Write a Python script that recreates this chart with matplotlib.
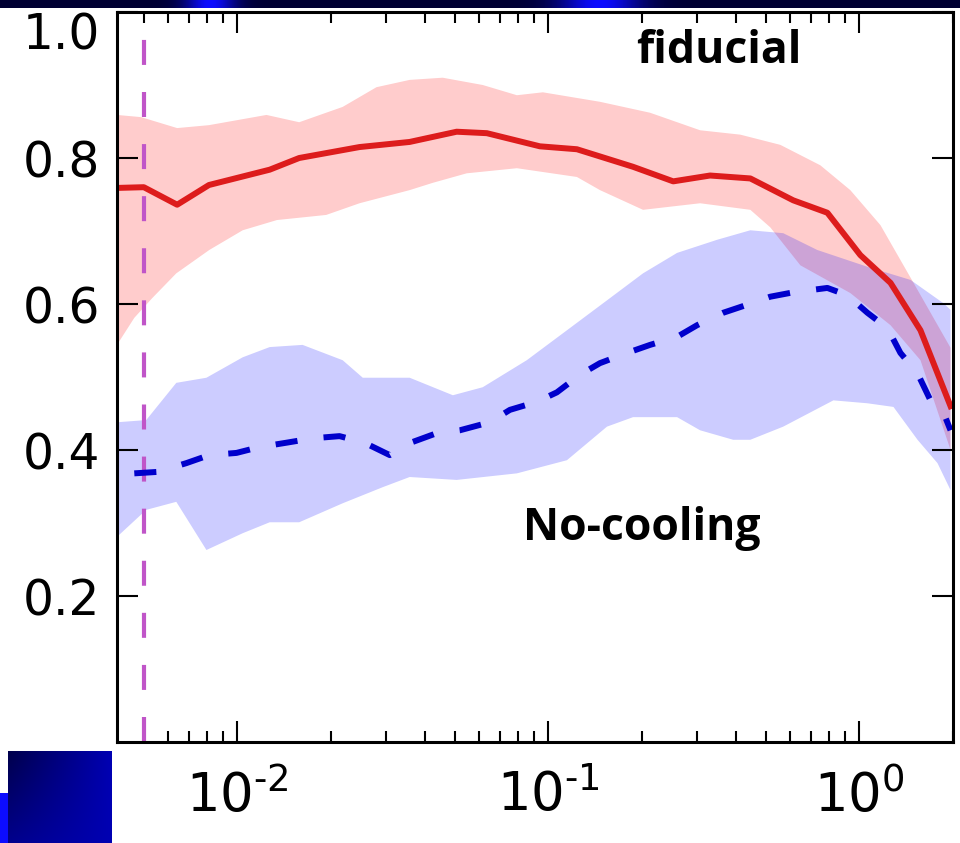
import matplotlib.pyplot as plt
import numpy as np

# fiducial run: median and spread
fid_x = [0.0041, 0.0050, 0.0064, 0.0081, 0.0127, 0.0158, 0.0247, 0.0358, 0.0507, 0.0634,
         0.0939, 0.1235, 0.187, 0.252, 0.331, 0.446, 0.613, 0.789, 1.007, 1.259, 1.572, 1.964]
fid_y = [0.759, 0.760, 0.736, 0.763, 0.784, 0.800, 0.815, 0.822, 0.836, 0.834,
         0.816, 0.812, 0.788, 0.768, 0.776, 0.772, 0.742, 0.725, 0.667, 0.629, 0.564, 0.460]

fid_up_x = [0.0041, 0.0049, 0.0064, 0.0081, 0.0124, 0.0158, 0.0218, 0.0280, 0.0358, 0.0457,
            0.0615, 0.0792, 0.0960, 0.1465, 0.2123, 0.3075, 0.414, 0.557, 0.749, 0.935,
            1.169, 1.493, 1.964]
fid_up_y = [0.859, 0.856, 0.841, 0.845, 0.859, 0.849, 0.870, 0.897, 0.907, 0.910,
            0.900, 0.886, 0.890, 0.877, 0.862, 0.838, 0.832, 0.818, 0.790, 0.756,
            0.708, 0.629, 0.540]

fid_lo_x = [0.0041, 0.00466, 0.00532, 0.00636, 0.00812, 0.0104, 0.0134, 0.0193, 0.0247, 0.0358,
            0.0425, 0.0546, 0.0792, 0.1235, 0.1465, 0.2015, 0.3075, 0.446, 0.517, 0.646,
            0.935, 1.259, 1.572, 1.964]
fid_lo_y = [0.544, 0.581, 0.608, 0.642, 0.674, 0.701, 0.715, 0.722, 0.738, 0.756,
            0.766, 0.779, 0.786, 0.774, 0.756, 0.729, 0.738, 0.729, 0.705, 0.653,
            0.615, 0.571, 0.523, 0.400]

# no-cooling run
nc_x = [0.00466, 0.00553, 0.00685, 0.00812, 0.00993, 0.01177, 0.01438, 0.01744, 0.0213, 0.0256,
        0.0309, 0.0366, 0.0437, 0.0519, 0.0648, 0.0752, 0.0918, 0.1065, 0.1263, 0.1465,
        0.1791, 0.2123, 0.2593, 0.3008, 0.3648, 0.4358, 0.517, 0.613, 0.789, 0.915,
        1.061, 1.231, 1.355, 1.538, 1.693, 1.864, 1.964]
nc_y = [0.368, 0.370, 0.382, 0.393, 0.396, 0.404, 0.410, 0.416, 0.419, 0.410,
        0.393, 0.411, 0.423, 0.427, 0.438, 0.455, 0.466, 0.479, 0.503, 0.519,
        0.533, 0.544, 0.555, 0.571, 0.588, 0.599, 0.610, 0.616, 0.622, 0.612,
        0.588, 0.567, 0.533, 0.505, 0.468, 0.451, 0.427]

nc_up_x = [0.0041, 0.00509, 0.00636, 0.00795, 0.0104, 0.0127, 0.0162, 0.0218, 0.0253, 0.0358,
           0.0493, 0.0615, 0.0852, 0.1147, 0.1543, 0.2015, 0.2593, 0.3489, 0.446, 0.569,
           0.732, 1.061, 1.460, 1.864, 1.964]
nc_up_y = [0.438, 0.441, 0.492, 0.499, 0.527, 0.541, 0.544, 0.523, 0.499, 0.499,
           0.475, 0.486, 0.523, 0.564, 0.605, 0.642, 0.670, 0.688, 0.701, 0.697,
           0.674, 0.651, 0.633, 0.601, 0.592]

nc_lo_x = [0.0041, 0.00509, 0.00636, 0.00795, 0.0104, 0.0127, 0.0158, 0.0218, 0.0293, 0.0358,
           0.0507, 0.0792, 0.1147, 0.1543, 0.1872, 0.2593, 0.3075, 0.3928, 0.446, 0.569,
           0.825, 1.061, 1.287, 1.538, 1.783, 1.964]
nc_lo_y = [0.281, 0.318, 0.329, 0.263, 0.286, 0.301, 0.301, 0.327, 0.349, 0.363,
           0.359, 0.368, 0.386, 0.432, 0.445, 0.445, 0.427, 0.414, 0.414, 0.432,
           0.468, 0.464, 0.459, 0.414, 0.382, 0.345]

x_cut = 0.005
yticks = [0.2, 0.4, 0.6, 0.8, 1.0]
xticks = [0.01, 0.1, 1.0]
xtick_labels = [r"$10^{\text{-}2}$", r"$10^{\text{-}1}$", r"$10^{0}$"]

fig = plt.figure(figsize=(9.6, 8.43), dpi=100)

# slide decoration: blue strip on top and square at bottom left
strip = fig.add_axes([0, 1 - 8 / 843, 1, 8 / 843])
xs = np.linspace(0, 960, 960)
glow = np.exp(-((xs - 210) / 25) ** 2) + np.exp(-((xs - 600) / 40) ** 2)
rgb = np.zeros((1, 960, 3))
rgb[0, :, 2] = 0.2 + 0.8 * np.clip(glow, 0, 1)
rgb[0, :, 0] = 0.05 * glow
rgb[0, :, 1] = 0.05 * glow
strip.imshow(rgb, aspect="auto")
strip.axis("off")

square = fig.add_axes([8 / 960, 0, 104 / 960, 92 / 843])
gx, gy = np.meshgrid(np.linspace(0, 1, 50), np.linspace(0, 1, 50))
sq = np.zeros((50, 50, 3))
sq[:, :, 2] = 0.3 + 0.4 * gx + 0.25 * gy * (1 - gx)
square.imshow(sq, aspect="auto")
square.axis("off")
edge = fig.add_axes([0, 0, 8 / 960, 50 / 843])
edge.imshow(np.array([[[0.05, 0.05, 1.0]]]), aspect="auto")
edge.axis("off")

ax = fig.add_axes([117 / 960, 1 - 742 / 843, 836 / 960, 730 / 843])

ax.fill(np.concatenate([fid_up_x, fid_lo_x[::-1]]),
        np.concatenate([fid_up_y, fid_lo_y[::-1]]),
        color="r", alpha=0.2, lw=0)
ax.fill(np.concatenate([nc_up_x, nc_lo_x[::-1]]),
        np.concatenate([nc_up_y, nc_lo_y[::-1]]),
        color="b", alpha=0.2, lw=0)
ax.axvline(x_cut, color="#c055c8", lw=3, ls=(0, (6, 6.5)))
ax.plot(fid_x, fid_y, color="#dd1c1c", lw=4.3)
ax.plot(nc_x, nc_y, color="#0000cc", lw=4.3, ls=(0, (3.7, 4.4)))

ax.set_xscale("log")
ax.set_xlim(0.0041, 2.0)
ax.set_ylim(0, 1.0)
ax.set_yticks(yticks)
ax.set_yticklabels([f"{v:.1f}" for v in yticks])
ax.set_xticks(xticks)
ax.set_xticklabels(xtick_labels)

ax.tick_params(which="both", direction="in", top=True, right=True, width=1.5)
ax.tick_params(which="major", length=15, labelsize=35, pad=12)
ax.tick_params(which="minor", length=8)
ax.tick_params(axis="x", which="major", labelsize=38, pad=20)
for s in ax.spines.values():
    s.set_linewidth(2.2)
# top label sits below its tick so it stays inside the picture
ax.get_yticklabels()[-1].set_verticalalignment("top")

ax.text(0.72, 0.946, "fiducial", transform=ax.transAxes, ha="center", va="center",
        fontsize=32, fontweight="bold", family=["Open Sans", "DejaVu Sans"])
ax.text(0.628, 0.293, "No-cooling", transform=ax.transAxes, ha="center", va="center",
        fontsize=32, fontweight="bold", family=["Open Sans", "DejaVu Sans"])

fig.savefig("out.png", dpi=100)
